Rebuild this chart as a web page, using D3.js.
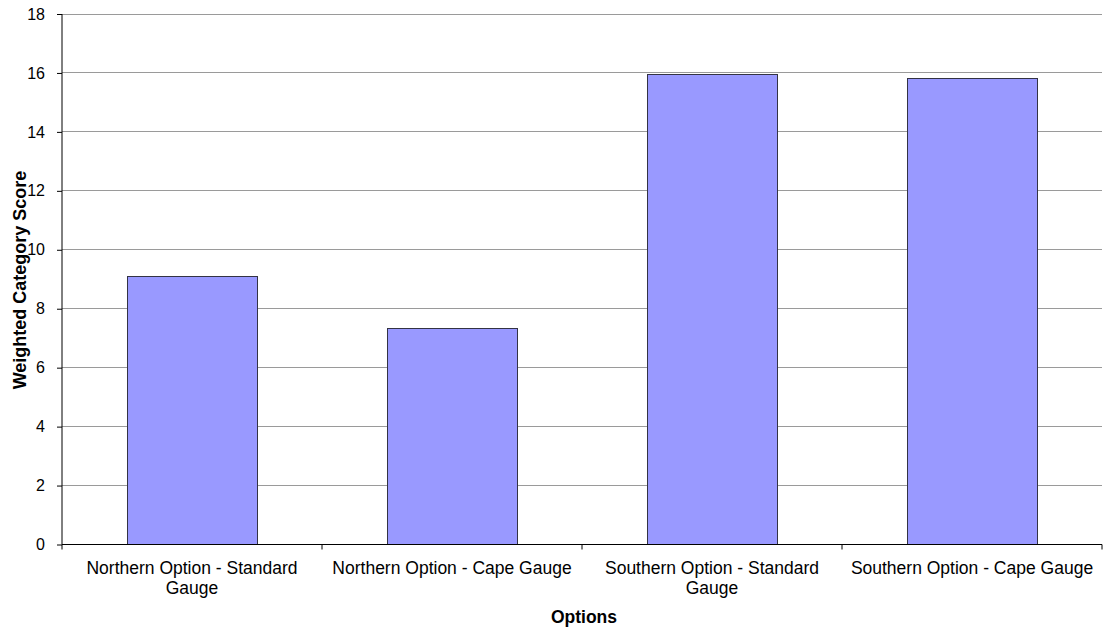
<!DOCTYPE html>
<html>
<head>
<meta charset="utf-8">
<script src="https://cdn.jsdelivr.net/npm/d3@7"></script>
<style>
  html, body { margin: 0; padding: 0; background: #fff; }
  svg { display: block; font-family: "Liberation Sans", Arial, sans-serif; }
</style>
</head>
<body>
<svg id="chart" width="1104" height="631"></svg>
<script>
const categories = [
  ["Northern Option - Standard", "Gauge"],
  ["Northern Option - Cape Gauge"],
  ["Southern Option - Standard", "Gauge"],
  ["Southern Option - Cape Gauge"]
];
const scores = [9.1, 7.32, 15.94, 15.8];
const yTicks = [0, 2, 4, 6, 8, 10, 12, 14, 16, 18];

const svg = d3.select("#chart");
const plotLeft = 62, plotRight = 1102, plotTop = 14, plotBottom = 544.5;

const x = d3.scaleBand()
  .domain(d3.range(categories.length))
  .range([plotLeft, plotRight])
  .paddingInner(0.5)
  .paddingOuter(0.25);
const band = d3.scaleBand().domain(d3.range(categories.length)).range([plotLeft, plotRight]);

const y = d3.scaleLinear().domain([0, 18]).range([plotBottom, plotTop]);

// horizontal gridlines
svg.append("g")
  .selectAll("line")
  .data(yTicks.filter(d => d > 0))
  .join("line")
  .attr("x1", plotLeft).attr("x2", plotRight)
  .attr("y1", d => y(d)).attr("y2", d => y(d))
  .attr("stroke", "#9a9a9a")
  .attr("stroke-width", 1)
  .attr("shape-rendering", "crispEdges");

// bars
svg.append("g")
  .selectAll("rect")
  .data(scores)
  .join("rect")
  .attr("x", (d, i) => x(i))
  .attr("width", x.bandwidth())
  .attr("y", d => y(d))
  .attr("height", d => y(0) - y(d))
  .attr("fill", "#9999ff")
  .attr("stroke", "#333344")
  .attr("stroke-width", 1)
  .attr("shape-rendering", "crispEdges");

// y axis
const yAxis = d3.axisLeft(y).tickValues(yTicks).tickSize(5).tickPadding(12).tickFormat(d3.format("d"));
const gy = svg.append("g").attr("transform", `translate(${plotLeft},0)`).call(yAxis);
gy.select(".domain").attr("stroke", "#000").attr("d", `M0,${plotTop}V${plotBottom}`);
gy.selectAll(".tick line").attr("stroke", "#000");
gy.selectAll(".tick text").attr("font-size", 16).attr("fill", "#000")
  .attr("font-family", "Liberation Sans, Arial, sans-serif");

// x axis
const gx = svg.append("g").attr("transform", `translate(0,${plotBottom})`);
gx.append("line").attr("x1", plotLeft).attr("x2", plotRight).attr("y1", 0).attr("y2", 0)
  .attr("stroke", "#000");
const tickXs = d3.range(categories.length + 1).map(i => i < categories.length ? band(i) : plotRight);
gx.selectAll("line.tk").data(tickXs).join("line").attr("class", "tk")
  .attr("x1", d => d).attr("x2", d => d).attr("y1", 0).attr("y2", 5)
  .attr("stroke", "#000");

const labels = gx.selectAll("text.cat").data(categories).join("text")
  .attr("class", "cat")
  .attr("text-anchor", "middle")
  .attr("font-size", 17.5)
  .attr("fill", "#000")
  .attr("x", (d, i) => band(i) + band.bandwidth() / 2)
  .attr("y", 29);
labels.selectAll("tspan").data(d => d).join("tspan")
  .attr("x", function () { return d3.select(this.parentNode).attr("x"); })
  .attr("dy", (d, i) => i === 0 ? 0 : 20)
  .text(d => d);

// axis titles
svg.append("text")
  .attr("x", 584).attr("y", 623)
  .attr("text-anchor", "middle")
  .attr("font-size", 17.5).attr("font-weight", "bold")
  .text("Options");

svg.append("text")
  .attr("transform", `translate(26,280) rotate(-90)`)
  .attr("text-anchor", "middle")
  .attr("font-size", 18).attr("font-weight", "bold")
  .text("Weighted Category Score");
</script>
</body>
</html>
